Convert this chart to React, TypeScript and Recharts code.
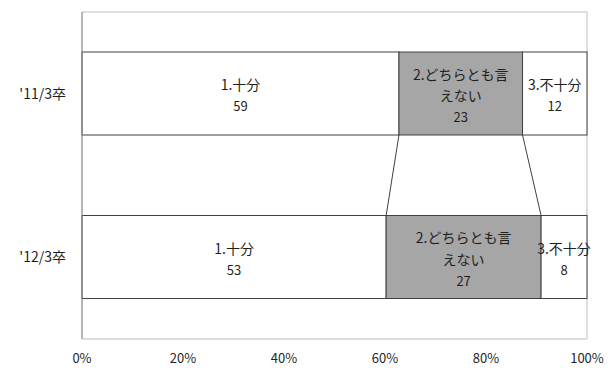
import { BarChart, Bar, XAxis, YAxis, ReferenceArea, LabelList } from 'recharts'

const categories = ["'11/3卒", "'12/3卒"]
const enough = [59, 53]
const neutral = [23, 27]
const notEnough = [12, 8]
const seriesLabels = [['1.十分'], ['2.どちらとも言', 'えない'], ['3.不十分']]
const percentTicks = [0, 0.2, 0.4, 0.6, 0.8, 1]

const chartData = categories.map((cat, i) => ({
  cat,
  enough: enough[i],
  neutral: neutral[i],
  notEnough: notEnough[i],
}))

const FONT = '"Noto Sans CJK JP", "Noto Sans", sans-serif'
const TEXT = '#1f1f1f'
const BAR_STROKE = '#404040'

// bottom-right corner of each series in the first row, used for the series lines
const edges: Record<number, { x: number; y: number }> = {}

function makeShape(fill: string, series: number, link: boolean) {
  return (props: any) => {
    const { x, y, width, height, index } = props
    let line = null
    if (link) {
      if (index === 0) {
        edges[series] = { x: x + width, y: y + height }
      } else if (edges[series]) {
        line = (
          <line
            x1={edges[series].x}
            y1={edges[series].y}
            x2={x + width}
            y2={y}
            stroke={BAR_STROKE}
            strokeWidth={1}
          />
        )
      }
    }
    return (
      <g>
        <rect x={x} y={y} width={width} height={height} fill={fill} stroke={BAR_STROKE} strokeWidth={1} />
        {line}
      </g>
    )
  }
}

function makeLabel(lines: string[]) {
  return (props: any) => {
    const { x, y, width, height, value } = props
    const all = [...lines, String(value)]
    const lh = 21.5
    const cx = x + width / 2
    const top = y + height / 2 + 1.5 - ((all.length - 1) * lh) / 2
    return (
      <g>
        {all.map((t, i) => (
          <text
            key={i}
            x={cx}
            y={top + i * lh}
            textAnchor="middle"
            dominantBaseline="central"
            fontSize={i === all.length - 1 ? 13 : 14}
            fontFamily={FONT}
            fill={TEXT}
          >
            {t}
          </text>
        ))}
      </g>
    )
  }
}

export default function App() {
  return (
    <div style={{ position: 'absolute', left: 0, top: 0, width: 608, height: 368, background: '#fff' }}>
      <BarChart
        width={608}
        height={368}
        data={chartData}
        layout="vertical"
        stackOffset="expand"
        margin={{ top: 12, right: 21, left: 0, bottom: 0 }}
        style={{ fontFamily: FONT }}
      >
        <ReferenceArea x1={0} x2={1} fill="none" stroke="#bfbfbf" strokeWidth={1} ifOverflow="visible" />
        <XAxis
          type="number"
          domain={[0, 1]}
          ticks={percentTicks}
          tickFormatter={(v: number) => `${Math.round(v * 100)}%`}
          axisLine={false}
          tickLine={false}
          tickSize={0}
          tickMargin={15}
          height={29}
          tick={{ fill: TEXT, fontSize: 13 }}
        />
        <YAxis
          type="category"
          dataKey="cat"
          width={82}
          axisLine={{ stroke: '#8c8c8c' }}
          tickLine={false}
          tickSize={0}
          tickMargin={16}
          tick={{ fill: TEXT, fontSize: 14 }}
        />
        <Bar dataKey="enough" stackId="a" barSize={83} isAnimationActive={false} shape={makeShape('#ffffff', 0, true)}>
          <LabelList dataKey="enough" content={makeLabel(seriesLabels[0])} />
        </Bar>
        <Bar dataKey="neutral" stackId="a" barSize={83} isAnimationActive={false} shape={makeShape('#a6a6a6', 1, true)}>
          <LabelList dataKey="neutral" content={makeLabel(seriesLabels[1])} />
        </Bar>
        <Bar dataKey="notEnough" stackId="a" barSize={83} isAnimationActive={false} shape={makeShape('#ffffff', 2, false)}>
          <LabelList dataKey="notEnough" content={makeLabel(seriesLabels[2])} />
        </Bar>
      </BarChart>
    </div>
  )
}
